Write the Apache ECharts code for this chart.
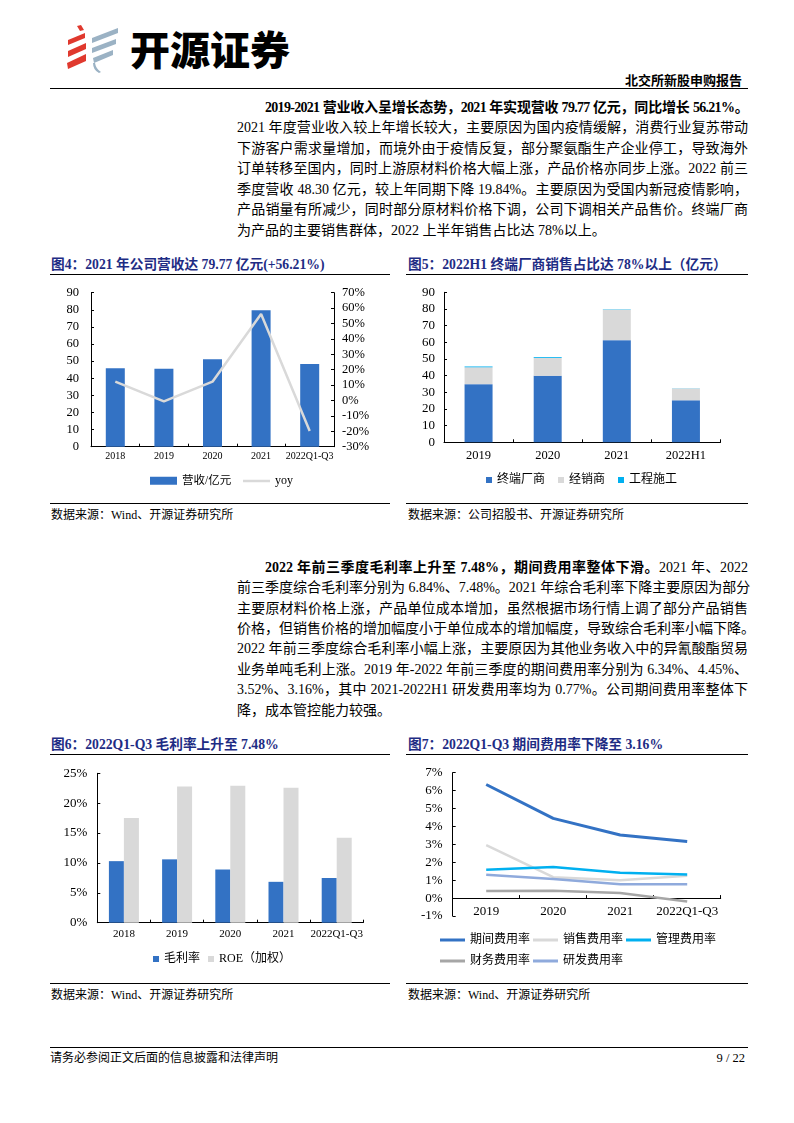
<!DOCTYPE html>
<html><head><meta charset="utf-8">
<script src="https://cdn.jsdelivr.net/npm/echarts@6/dist/echarts.min.js"></script>
<style>
html,body{margin:0;padding:0;background:#fff;}
body{width:794px;height:1123px;position:relative;overflow:hidden;font-family:"Liberation Serif","Noto Sans CJK SC",serif;color:#000;}
#chart{position:absolute;left:0;top:0;width:794px;height:1123px;}
.abs{position:absolute;white-space:nowrap;}
.hline{position:absolute;height:0;border-top:1.5px solid #000;}
.para{position:absolute;left:237px;width:511px;font-size:14px;line-height:20.6px;}
.para div{box-sizing:border-box;width:511px;white-space:nowrap;text-align:justify;text-align-last:justify;}
.para div.last{text-align-last:left;text-align:left;}
.para div.ind{padding-left:28px;}
.b{font-weight:bold;}
.ctitle{position:absolute;white-space:nowrap;font-size:13.7px;font-weight:bold;color:#1E2C84;line-height:16px;}
.src{position:absolute;white-space:nowrap;font-size:12px;line-height:14px;}
</style></head>
<body>
<svg class="abs" style="left:0;top:0" width="130" height="80" viewBox="0 0 130 80">
  <polygon points="77,26 81,25 84,30 80,31" fill="#E0392E"/>
  <polygon points="68,40 85,33 85,38 68,45" fill="#E0392E"/>
  <polygon points="68,51 86,43 86,49 68,57" fill="#E0392E"/>
  <polygon points="67,63 86,54 86,61 68,69" fill="#E0392E"/>
  <polygon points="92,38 118,28 118,33 92,43" fill="#9BB2C4"/>
  <polygon points="92,48 116,39 116,44 92,53" fill="#9BB2C4"/>
  <polygon points="93,58 113,50 113,55 94,63" fill="#9BB2C4"/>
  <path d="M95,63 Q96,69 101,72 L99,73 Q93,70 93,63 Z" fill="#9BB2C4"/>
</svg>
<div class="abs" style="left:130px;top:24px;font-family:'Noto Sans CJK SC';font-size:40px;font-weight:900;line-height:48px;">开源证券</div>
<div class="abs" style="right:52px;top:72px;font-family:'Noto Sans CJK SC';font-size:13px;font-weight:bold;line-height:16px;">北交所新股申购报告</div>
<div class="hline" style="left:50px;top:87.5px;width:698px;"></div>

<div class="para" style="top:97.5px;">
  <div class="ind b" style="letter-spacing:-0.7px;">2019-2021 营业收入呈增长态势，2021 年实现营收 79.77 亿元，同比增长 56.21%。</div>
  <div>2021 年度营业收入较上年增长较大，主要原因为国内疫情缓解，消费行业复苏带动</div>
  <div>下游客户需求量增加，而境外由于疫情反复，部分聚氨酯生产企业停工，导致海外</div>
  <div>订单转移至国内，同时上游原材料价格大幅上涨，产品价格亦同步上涨。2022 前三</div>
  <div>季度营收 48.30 亿元，较上年同期下降 19.84%。主要原因为受国内新冠疫情影响，</div>
  <div>产品销量有所减少，同时部分原材料价格下调，公司下调相关产品售价。终端厂商</div>
  <div class="last">为产品的主要销售群体，2022 上半年销售占比达 78%以上。</div>
</div>

<div class="ctitle" style="left:51px;top:257px;">图4：2021 年公司营收达 79.77 亿元(+56.21%)</div>
<div class="ctitle" style="left:408px;top:257px;">图5：2022H1 终端厂商销售占比达 78%以上（亿元）</div>
<div class="hline" style="left:50px;top:273.5px;width:340px;"></div>
<div class="hline" style="left:406px;top:273.5px;width:342px;"></div>
<div class="hline" style="left:50px;top:502.5px;width:340px;"></div>
<div class="hline" style="left:406px;top:502.5px;width:342px;"></div>
<div class="src" style="left:51px;top:508px;">数据来源：Wind、开源证券研究所</div>
<div class="src" style="left:408px;top:508px;">数据来源：公司招股书、开源证券研究所</div>

<div class="para" style="top:557.8px;line-height:20.4px;">
  <div class="ind"><span class="b">2022 年前三季度毛利率上升至 7.48%，期间费用率整体下滑。</span>2021 年、2022</div>
  <div>前三季度综合毛利率分别为 6.84%、7.48%。2021 年综合毛利率下降主要原因为部分</div>
  <div>主要原材料价格上涨，产品单位成本增加，虽然根据市场行情上调了部分产品销售</div>
  <div>价格，但销售价格的增加幅度小于单位成本的增加幅度，导致综合毛利率小幅下降。</div>
  <div>2022 年前三季度综合毛利率小幅上涨，主要原因为其他业务收入中的异氰酸酯贸易</div>
  <div>业务单吨毛利上涨。2019 年-2022 年前三季度的期间费用率分别为 6.34%、4.45%、</div>
  <div>3.52%、3.16%，其中 2021-2022H1 研发费用率均为 0.77%。公司期间费用率整体下</div>
  <div class="last">降，成本管控能力较强。</div>
</div>

<div class="ctitle" style="left:51px;top:737px;">图6：2022Q1-Q3 毛利率上升至 7.48%</div>
<div class="ctitle" style="left:408px;top:737px;">图7：2022Q1-Q3 期间费用率下降至 3.16%</div>
<div class="hline" style="left:50px;top:753.5px;width:340px;"></div>
<div class="hline" style="left:406px;top:753.5px;width:342px;"></div>
<div class="hline" style="left:50px;top:982.5px;width:340px;"></div>
<div class="hline" style="left:406px;top:982.5px;width:342px;"></div>
<div class="src" style="left:51px;top:988px;">数据来源：Wind、开源证券研究所</div>
<div class="src" style="left:408px;top:988px;">数据来源：Wind、开源证券研究所</div>

<div class="hline" style="left:50px;top:1047px;width:698px;"></div>
<div class="src" style="left:50px;top:1051px;">请务必参阅正文后面的信息披露和法律声明</div>
<div class="src" style="right:49px;top:1051px;font-size:12.5px;">9 / 22</div>

<div id="chart"></div>
<script>
// ---- data ----
const revCats = ['2018', '2019', '2020', '2021', '2022Q1-Q3'];
const revenue = [45.8, 45.5, 51.1, 79.77, 48.30];
const revYoy = [12.2, -0.6, 12.2, 56.21, -19.84];

const salesCats = ['2019', '2020', '2021', '2022H1'];
const terminal = [34.9, 39.9, 61.3, 25.2];
const dealer = [10.1, 10.7, 18.3, 7.1];
const engineering = [0.5, 0.5, 0.2, 0.1];

const marginCats = ['2018', '2019', '2020', '2021', '2022Q1-Q3'];
const grossMargin = [10.3, 10.6, 8.9, 6.84, 7.48];
const roe = [17.5, 22.8, 22.9, 22.6, 14.2];

const feeCats = ['2019', '2020', '2021', '2022Q1-Q3'];
const periodFee = [6.34, 4.45, 3.52, 3.16];
const sellFee = [2.96, 1.17, 0.99, 1.25];
const mgmtFee = [1.58, 1.73, 1.41, 1.32];
const finFee = [0.39, 0.41, 0.28, -0.19];
const rdFee = [1.30, 1.06, 0.77, 0.77];

// ---- styles ----
const serif = '"Liberation Serif","Times New Roman","Noto Sans CJK SC",serif';
const BLUE = '#3372C4', LGRAY = '#D9D9D9', CYAN = '#00B0F0', DGRAY = '#A6A6A6', LBLUE = '#8FAADC';
const axisLineStyle = {color: '#000', width: 1};

function catAxis(gi, data, fs, margin, onZero) {
  return {
    type: 'category', gridIndex: gi, data: data, boundaryGap: true,
    axisLine: {show: true, onZero: !!onZero, lineStyle: axisLineStyle},
    axisTick: {show: true, inside: true, length: 3, lineStyle: axisLineStyle},
    axisLabel: {interval: 0, color: '#000', fontSize: fs, fontFamily: serif, margin: margin},
    splitLine: {show: false}
  };
}
function valAxis(gi, min, max, interval, fs, margin, pct, pos) {
  return {
    type: 'value', gridIndex: gi, min: min, max: max, interval: interval, position: pos || 'left',
    axisLine: {show: true, lineStyle: axisLineStyle},
    axisTick: {show: true, inside: true, length: 3, lineStyle: axisLineStyle},
    axisLabel: {color: '#000', fontSize: fs, fontFamily: serif, margin: margin,
      formatter: pct ? '{value}%' : '{value}'},
    splitLine: {show: false}
  };
}
function legend(data, left, top, w, h, gap, fs) {
  return {
    data: data, left: left, top: top, orient: 'horizontal', icon: 'rect',
    itemWidth: w, itemHeight: h, itemGap: gap, padding: 0,
    textStyle: {color: '#000', fontSize: fs, fontFamily: serif},
    selectedMode: false
  };
}

const chart = echarts.init(document.getElementById('chart'), null, {renderer: 'canvas'});
chart.setOption({
  animation: false,
  backgroundColor: 'transparent',
  grid: [
    {left: 91, top: 292.7, width: 243, height: 154},
    {left: 444, top: 292.3, width: 276.5, height: 150},
    {left: 97.3, top: 773.3, width: 266, height: 149.4},
    {left: 452.7, top: 772.7, width: 268, height: 143.3}
  ],
  xAxis: [
    catAxis(0, revCats, 10, 5, false),
    catAxis(1, salesCats, 12.5, 7, false),
    catAxis(2, marginCats, 11, 6, false),
    catAxis(3, feeCats, 13, -11, true)
  ],
  yAxis: [
    valAxis(0, 0, 90, 10, 12.5, 12, false, 'left'),
    valAxis(0, -30, 70, 10, 12.5, 8, true, 'right'),
    valAxis(1, 0, 90, 10, 13, 9, false, 'left'),
    valAxis(2, 0, 25, 5, 13, 10, true, 'left'),
    valAxis(3, -1, 7, 1, 13, 10, true, 'left')
  ],
  legend: [
    legend(['营收/亿元'], 150, 475, 27, 8, 10, 11.5),
    legend(['yoy'], 243, 475, 27, 2.5, 10, 12),
    legend(['终端厂商', '经销商', '工程施工'], 486, 474, 6, 6, 13, 12),
    legend(['毛利率', 'ROE（加权）'], 153, 953, 6, 6, 8, 12),
    legend(['期间费用率', '销售费用率', '管理费用率'], 440, 934, 25, 3, 3, 12),
    legend(['财务费用率', '研发费用率'], 440, 955, 25, 3, 3, 12)
  ],
  series: [
    {name: '营收/亿元', type: 'bar', xAxisIndex: 0, yAxisIndex: 0, data: revenue,
      barWidth: 19, itemStyle: {color: BLUE}},
    {name: 'yoy', type: 'line', xAxisIndex: 0, yAxisIndex: 1, data: revYoy,
      symbol: 'none', lineStyle: {color: LGRAY, width: 2.5}, itemStyle: {color: LGRAY}},

    {name: '终端厂商', type: 'bar', stack: 's', xAxisIndex: 1, yAxisIndex: 2, data: terminal,
      barWidth: 28, itemStyle: {color: BLUE}},
    {name: '经销商', type: 'bar', stack: 's', xAxisIndex: 1, yAxisIndex: 2, data: dealer,
      barWidth: 28, itemStyle: {color: LGRAY}},
    {name: '工程施工', type: 'bar', stack: 's', xAxisIndex: 1, yAxisIndex: 2, data: engineering,
      barWidth: 28, itemStyle: {color: CYAN}},

    {name: '毛利率', type: 'bar', xAxisIndex: 2, yAxisIndex: 3, data: grossMargin,
      barWidth: 15, barGap: '0%', itemStyle: {color: BLUE}},
    {name: 'ROE（加权）', type: 'bar', xAxisIndex: 2, yAxisIndex: 3, data: roe,
      barWidth: 15, barGap: '0%', itemStyle: {color: LGRAY}},

    {name: '期间费用率', type: 'line', xAxisIndex: 3, yAxisIndex: 4, data: periodFee,
      symbol: 'none', lineStyle: {color: BLUE, width: 3}, itemStyle: {color: BLUE}},
    {name: '销售费用率', type: 'line', xAxisIndex: 3, yAxisIndex: 4, data: sellFee,
      symbol: 'none', lineStyle: {color: LGRAY, width: 2.5}, itemStyle: {color: LGRAY}},
    {name: '管理费用率', type: 'line', xAxisIndex: 3, yAxisIndex: 4, data: mgmtFee,
      symbol: 'none', lineStyle: {color: CYAN, width: 2.5}, itemStyle: {color: CYAN}},
    {name: '财务费用率', type: 'line', xAxisIndex: 3, yAxisIndex: 4, data: finFee,
      symbol: 'none', lineStyle: {color: DGRAY, width: 2.5}, itemStyle: {color: DGRAY}},
    {name: '研发费用率', type: 'line', xAxisIndex: 3, yAxisIndex: 4, data: rdFee,
      symbol: 'none', lineStyle: {color: LBLUE, width: 2.5}, itemStyle: {color: LBLUE}}
  ]
});
</script>
</body></html>
